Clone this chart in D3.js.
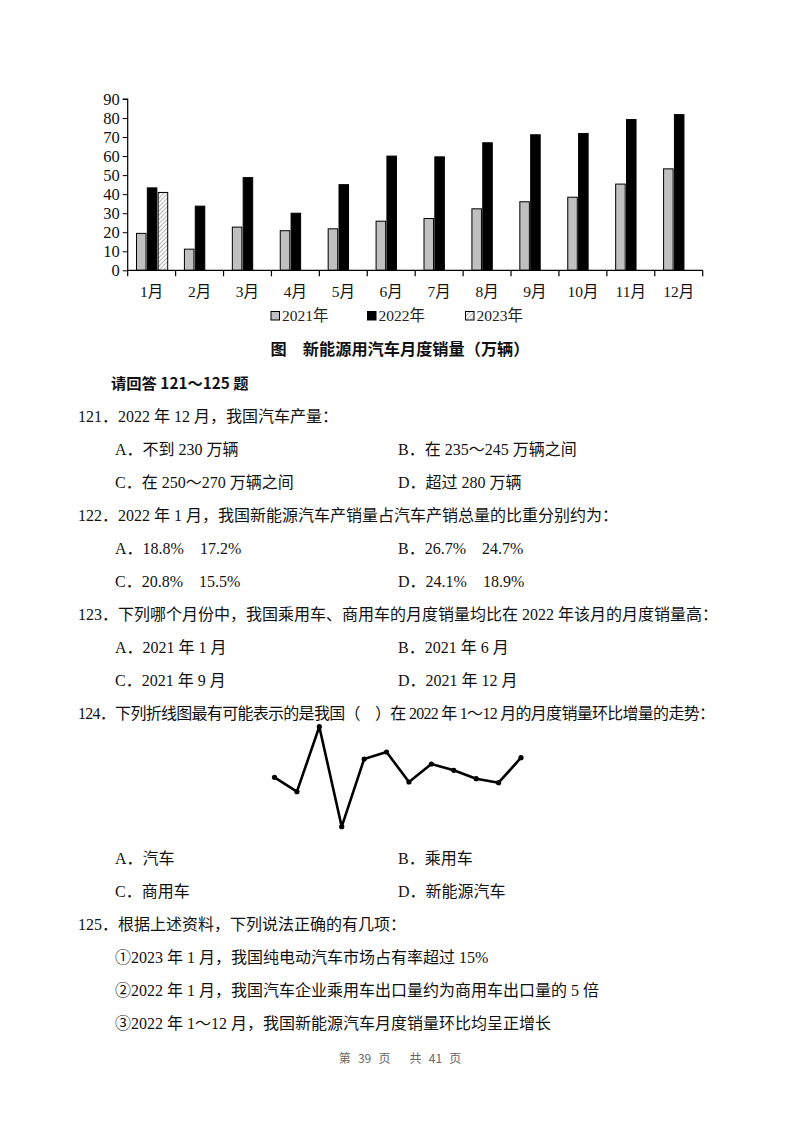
<!DOCTYPE html>
<html><head><meta charset="utf-8">
<script src="https://cdn.jsdelivr.net/npm/d3@7/dist/d3.min.js"></script>
<style>body{margin:0;background:#fff}svg{display:block}</style>
</head><body><svg id="c" width="800" height="1124"></svg>
<script>
// ---------- DATA ----------
const months = ["1月","2月","3月","4月","5月","6月","7月","8月","9月","10月","11月","12月"];
const seriesNames = ["2021年","2022年","2023年"];
const sales2021 = [19.4, 11.1, 22.7, 20.8, 21.8, 25.8, 27.2, 32.3, 36.0, 38.4, 45.3, 53.3];
const sales2022 = [43.3, 33.7, 48.7, 30.0, 45.0, 60.0, 59.6, 67.0, 71.2, 71.9, 79.2, 81.8];
const sales2023 = [40.9, null, null, null, null, null, null, null, null, null, null, null];
const yTicks = [0, 10, 20, 30, 40, 50, 60, 70, 80, 90];
const chartTitle = "图　新能源用汽车月度销量（万辆）";
// trend line in question 124 (relative units, 12 months)
const trendValues = [52.7, 38.3, 103.3, 3.3, 71.0, 78.0, 48.0, 66.0, 59.7, 51.3, 47.3, 72.3];

const intro = "请回答 121～125 题";
const questions = [
  {num:"121．", text:"2022 年 12 月，我国汽车产量：",
   options:["A．不到 230 万辆","B．在 235～245 万辆之间","C．在 250～270 万辆之间","D．超过 280 万辆"]},
  {num:"122．", text:"2022 年 1 月，我国新能源汽车产销量占汽车产销总量的比重分别约为：",
   options:["A．18.8%　17.2%","B．26.7%　24.7%","C．20.8%　15.5%","D．24.1%　18.9%"]},
  {num:"123．", text:"下列哪个月份中，我国乘用车、商用车的月度销量均比在 2022 年该月的月度销量高：",
   options:["A．2021 年 1 月","B．2021 年 6 月","C．2021 年 9 月","D．2021 年 12 月"]},
  {num:"124．", text:"下列折线图最有可能表示的是我国（　）在 2022 年 1～12 月的月度销量环比增量的走势：",
   chart:true, fit:637,
   options:["A．汽车","B．乘用车","C．商用车","D．新能源汽车"]},
  {num:"125．", text:"根据上述资料，下列说法正确的有几项：",
   items:["①2023 年 1 月，我国纯电动汽车市场占有率超过 15%",
          "②2022 年 1 月，我国汽车企业乘用车出口量约为商用车出口量的 5 倍",
          "③2022 年 1～12 月，我国新能源汽车月度销量环比均呈正增长"]}
];
const footer = "第 39 页　 共 41 页";

// ---------- DRAW ----------
const svg = d3.select("#c");
svg.append("rect").attr("width",800).attr("height",1124).attr("fill","#fff");
const serif = "'Liberation Serif','Noto Sans CJK SC',serif";
const cjk = "'Liberation Serif','Noto Sans CJK SC',sans-serif";

const defs = svg.append("defs");
const pat = defs.append("pattern").attr("id","hatch").attr("patternUnits","userSpaceOnUse")
  .attr("width",3).attr("height",3).attr("patternTransform","rotate(45)");
pat.append("rect").attr("width",3).attr("height",3).attr("fill","#fff");
pat.append("line").attr("x1",0).attr("y1",0).attr("x2",0).attr("y2",3)
  .attr("stroke","#808080").attr("stroke-width",1.2);

const plot = {left:127.7, right:702.7, top:99, bottom:270.3};
const x = d3.scaleBand().domain(months).range([plot.left, plot.right]).padding(0);
const xi = d3.scaleBand().domain(seriesNames).range([8.8, 40]).paddingInner(0.12);
const y = d3.scaleLinear().domain([0, 90]).range([plot.bottom, plot.top]);

const series = [
  {name:seriesNames[0], values:sales2021, fill:"#c0c0c0"},
  {name:seriesNames[1], values:sales2022, fill:"#000"},
  {name:seriesNames[2], values:sales2023, fill:"url(#hatch)"}
];

const g = svg.append("g");
series.forEach(s => {
  g.selectAll(null).data(months.map((m,i)=>({m, v:s.values[i]})).filter(d=>d.v!=null))
    .enter().append("rect")
    .attr("x", d => x(d.m) + xi(s.name))
    .attr("width", xi.bandwidth())
    .attr("y", d => y(d.v))
    .attr("height", d => y(0) - y(d.v))
    .attr("fill", s.fill)
    .attr("stroke", "#000").attr("stroke-width", 1);
});

// y axis
const yAxis = d3.axisLeft(y).tickValues(yTicks).tickSize(5).tickPadding(3);
const ya = svg.append("g").attr("transform",`translate(${plot.left},0)`).call(yAxis);
ya.attr("font-family", serif);
ya.select(".domain").attr("stroke","#000").attr("stroke-width",1.2).attr("d",`M-5,${plot.top}H0V${plot.bottom}`);
ya.selectAll("text").attr("font-family",serif).attr("font-size",16.5).attr("fill","#111").attr("dy","0.34em");
ya.selectAll("line").attr("stroke","#000");

// x axis
const xa = svg.append("g").attr("transform",`translate(0,${plot.bottom})`);
xa.append("line").attr("x1",plot.left).attr("x2",plot.right).attr("stroke","#000").attr("stroke-width",1.2);
const bounds = months.map(m => x(m)).concat([plot.right]);
xa.selectAll(null).data(bounds).enter().append("line")
  .attr("x1",d=>d).attr("x2",d=>d).attr("y1",0).attr("y2",6).attr("stroke","#000").attr("stroke-width",1.2);
xa.selectAll(null).data(months).enter().append("text")
  .attr("x", d => x(d) + x.bandwidth()/2).attr("y", 27)
  .attr("text-anchor","middle").attr("font-family",cjk).attr("font-size",15.5).attr("fill","#111")
  .text(d=>d);

// legend
const legX = [271, 367.5, 465.5];
series.forEach((s,i) => {
  const lg = svg.append("g").attr("transform",`translate(${legX[i]},311.5)`);
  lg.append("rect").attr("width",8.5).attr("height",8.5).attr("fill",s.fill).attr("stroke","#000").attr("stroke-width",1);
  lg.append("text").attr("x",11).attr("y",9.5).attr("font-family",cjk).attr("font-size",15.5).attr("fill","#222").text(s.name);
});

// chart title
svg.append("text").attr("x",400).attr("y",355).attr("text-anchor","middle")
  .attr("font-family","'Noto Sans CJK SC',sans-serif").attr("font-weight","bold").attr("font-size",16.2)
  .attr("fill","#111").text(chartTitle);

// question text
const fs = 16;
const step = 33;
function txt(xp, yp, t, bold){
  return svg.append("text").attr("x",xp).attr("y",yp).attr("font-family",cjk)
    .attr("font-size",fs).attr("fill","#111").attr("font-weight",bold?"bold":"normal")
    .attr("xml:space","preserve").style("white-space","pre").text(t);
}
txt(111, 389, intro, true).attr("font-family","'Noto Sans CJK SC',sans-serif").attr("font-size",15.3);
let yy = 422;
const numX = 78, optA = 115, optB = 398;
questions.forEach(q => {
  const t = txt(numX, yy, q.num + q.text);
  if (q.fit) t.attr("textLength", q.fit).attr("lengthAdjust","spacing");
  yy += step;
  if (q.chart) {
    // trend line chart
    const lx = d3.scaleLinear().domain([0, trendValues.length-1]).range([274.5, 521]);
    const ly = d3.scaleLinear().domain([0, 100]).range([830, 730]);
    const line = d3.line().x((d,i)=>lx(i)).y(d=>ly(d));
    svg.append("path").datum(trendValues).attr("d",line).attr("fill","none")
      .attr("stroke","#000").attr("stroke-width",2.6).attr("stroke-linejoin","round");
    svg.selectAll(null).data(trendValues).enter().append("circle")
      .attr("cx",(d,i)=>lx(i)).attr("cy",d=>ly(d)).attr("r",2.6).attr("fill","#000");
    yy = 864;
  }
  if (q.options) {
    for (let k=0;k<q.options.length;k+=2){
      txt(optA, yy, q.options[k]);
      txt(optB, yy, q.options[k+1]);
      yy += step;
    }
  }
  if (q.items) {
    q.items.forEach(it => { txt(optA, yy, it); yy += step; });
  }
});

svg.append("text").attr("x",400).attr("y",1063).attr("text-anchor","middle")
  .attr("font-family","'Noto Sans CJK SC',sans-serif").attr("font-size",12).attr("fill","#666")
  .attr("word-spacing",4.5)
  .attr("xml:space","preserve").style("white-space","pre").text(footer);
</script></body></html>
